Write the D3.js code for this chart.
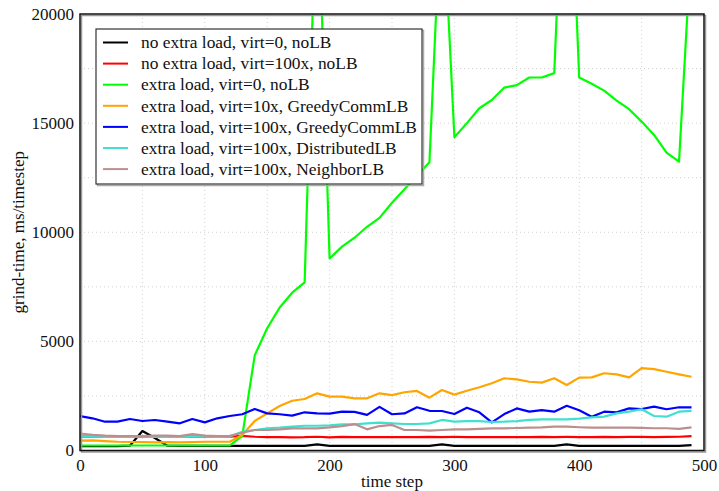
<!DOCTYPE html>
<html lang="en">
<head>
<meta charset="utf-8">
<title>grind-time</title>
<script src="https://cdn.jsdelivr.net/npm/d3@7"></script>
<style>
  body { margin: 0; background: #fff; }
  text { font-family: "Liberation Serif", "DejaVu Serif", serif; }
</style>
</head>
<body>
<script>
// time steps 0..490 every 10
var steps = d3.range(0, 500, 10)

var noLoadV0 = [200,200,200,200,220,890,570,220,210,210, 210,210,210,210,210,210,210,210,210,280,
                210,210,210,210,210,210,210,210,210,280, 210,210,210,210,210,210,210,210,210,280,
                210,210,210,210,210,210,210,210,210,250]
var noLoadV100 = [640,640,640,640,640,640,640,640,640,640, 640,640,640,670,630,610,610,605,610,630,
                  605,620,615,610,610,610,615,610,620,615, 620,615,615,610,615,610,610,620,615,620,
                  615,610,620,615,620,620,615,620,630,660]
var loadV0 = [230,230,230,230,230,230,230,230,230,230, 230,230,230,660,4360,5600,6550,7230,7700,27000,
              8800,9340,9750,10250,10660,11350,11970,12590,13210,26000, 14350,15000,15680,16060,16630,16740,17090,17090,17290,31000,
              17090,16800,16490,16030,15640,15070,14460,13650,13240,23400]
var greedy10 = [450,460,430,400,390,380,370,380,370,380, 400,400,400,710,1350,1700,2040,2280,2360,2620,
                2470,2465,2390,2390,2620,2540,2670,2730,2420,2770, 2560,2740,2900,3080,3310,3260,3150,3110,3310,3000,
                3340,3350,3540,3490,3350,3770,3730,3610,3490,3380]
var greedy100 = [1580,1475,1320,1320,1443,1351,1397,1320,1246,1443, 1290,1475,1580,1660,1900,1700,1660,1600,1750,1700,
                 1690,1780,1770,1630,2000,1660,1700,1980,1820,1810, 1670,1960,1750,1290,1670,1930,1780,1850,1780,2050,
                 1840,1550,1780,1750,1930,1900,2010,1890,1980,1980]
var distrib100 = [630,630,620,620,625,630,625,620,625,630, 630,625,640,860,940,1020,1045,1090,1135,1135,
                  1150,1200,1200,1245,1275,1245,1215,1215,1245,1400, 1320,1350,1350,1305,1320,1350,1400,1430,1430,1430,
                  1460,1520,1550,1700,1780,1890,1580,1550,1780,1820]
var neighbor100 = [780,720,680,660,660,660,680,680,660,750, 680,660,670,815,940,940,970,1015,1015,1015,
                   1060,1120,1210,970,1120,1170,940,940,910,940, 970,970,990,1015,1015,1030,1045,1060,1090,1090,
                   1065,1050,1050,1050,1045,1040,1020,1020,990,1060]

var seriesNames = ["no extra load, virt=0, noLB", "no extra load, virt=100x, noLB", "extra load, virt=0, noLB",
  "extra load, virt=10x, GreedyCommLB", "extra load, virt=100x, GreedyCommLB",
  "extra load, virt=100x, DistributedLB", "extra load, virt=100x, NeighborLB"]
var seriesColors = ["#000000", "#ff0000", "#00ff00", "#ffa500", "#0000ff", "#40e0d0", "#bc8f8f"]
var seriesValues = [noLoadV0, noLoadV100, loadV0, greedy10, greedy100, distrib100, neighbor100]

var xTicks = [0, 100, 200, 300, 400, 500]
var yTicks = [0, 5000, 10000, 15000, 20000]

var width = 719, height = 491
var pL = 80, pR = 704, pT = 14, pB = 450.5

var svg = d3.select("body").append("svg").attr("width", width).attr("height", height)

var x = d3.scaleLinear().domain([0, 500]).range([pL, pR])
var y = d3.scaleLinear().domain([0, 20000]).range([pB, pT])

svg.append("clipPath").attr("id", "clip")
  .append("rect").attr("x", pL).attr("y", pT).attr("width", pR - pL).attr("height", pB - pT)

// dotted grid
var grid = svg.append("g").attr("stroke", "#d0d0d0").attr("stroke-dasharray", "1,3").attr("stroke-width", 1)
grid.selectAll("line.gx").data(d3.range(50, 500, 50)).enter().append("line")
  .attr("x1", function(d) { return x(d) }).attr("x2", function(d) { return x(d) })
  .attr("y1", pT).attr("y2", pB)
grid.selectAll("line.gy").data(d3.range(2500, 20000, 2500)).enter().append("line")
  .attr("y1", function(d) { return y(d) }).attr("y2", function(d) { return y(d) })
  .attr("x1", pL).attr("x2", pR)

// lines
var line = d3.line().x(function(d, i) { return x(steps[i]) }).y(function(d) { return y(d) })
var plot = svg.append("g").attr("clip-path", "url(#clip)")
seriesValues.forEach(function(vals, k) {
  plot.append("path").datum(vals)
    .attr("d", line)
    .attr("fill", "none")
    .attr("stroke", seriesColors[k])
    .attr("stroke-width", 2.2)
    .attr("stroke-linejoin", "round")
})

// frame with a soft shadow
svg.append("rect").attr("x", pL + 1.5).attr("y", pT + 1.5).attr("width", pR - pL).attr("height", pB - pT)
  .attr("fill", "none").attr("stroke", "#999").attr("stroke-width", 1.5)
svg.append("rect").attr("x", pL).attr("y", pT).attr("width", pR - pL).attr("height", pB - pT)
  .attr("fill", "none").attr("stroke", "#111").attr("stroke-width", 1.5)

// axes
var xAxis = svg.append("g").attr("transform", "translate(0," + pB + ")")
  .call(d3.axisBottom(x).tickValues(xTicks).tickSize(0).tickPadding(4))
var yAxis = svg.append("g").attr("transform", "translate(" + pL + ",0)")
  .call(d3.axisLeft(y).tickValues(yTicks).tickSize(0).tickPadding(6).tickFormat(d3.format("d")))
svg.selectAll(".domain").remove()
svg.selectAll(".tick text").attr("font-family", "Liberation Serif").attr("font-size", 17).attr("fill", "#111")
xAxis.selectAll(".tick text").attr("dy", "0.95em")

svg.append("text").attr("x", (pL + pR) / 2).attr("y", 487).attr("text-anchor", "middle")
  .attr("font-size", 17).attr("fill", "#111").text("time step")
svg.append("text").attr("transform", "translate(24," + ((pT + pB) / 2) + ") rotate(-90)")
  .attr("text-anchor", "middle").attr("font-size", 17).attr("fill", "#111").text("grind-time, ms/timestep")

// legend
var lg = svg.append("g")
lg.append("rect").attr("x", 97.5).attr("y", 30.5).attr("width", 326).attr("height", 155)
  .attr("fill", "none").attr("stroke", "#aaa").attr("stroke-width", 1.5)
lg.append("rect").attr("x", 96).attr("y", 29).attr("width", 326).attr("height", 155)
  .attr("fill", "#fff").attr("stroke", "#333").attr("stroke-width", 1.2)
var rows = lg.selectAll("g.row").data(seriesNames).enter().append("g")
  .attr("transform", function(d, i) { return "translate(0," + (42.5 + i * 21.1) + ")" })
rows.append("line").attr("x1", 103).attr("x2", 128).attr("y1", 0).attr("y2", 0)
  .attr("stroke", function(d, i) { return seriesColors[i] }).attr("stroke-width", 2)
rows.append("text").attr("x", 141).attr("y", 0).attr("dy", "0.33em")
  .attr("font-size", 17.4).attr("fill", "#111").text(function(d) { return d })
</script>
</body>
</html>
